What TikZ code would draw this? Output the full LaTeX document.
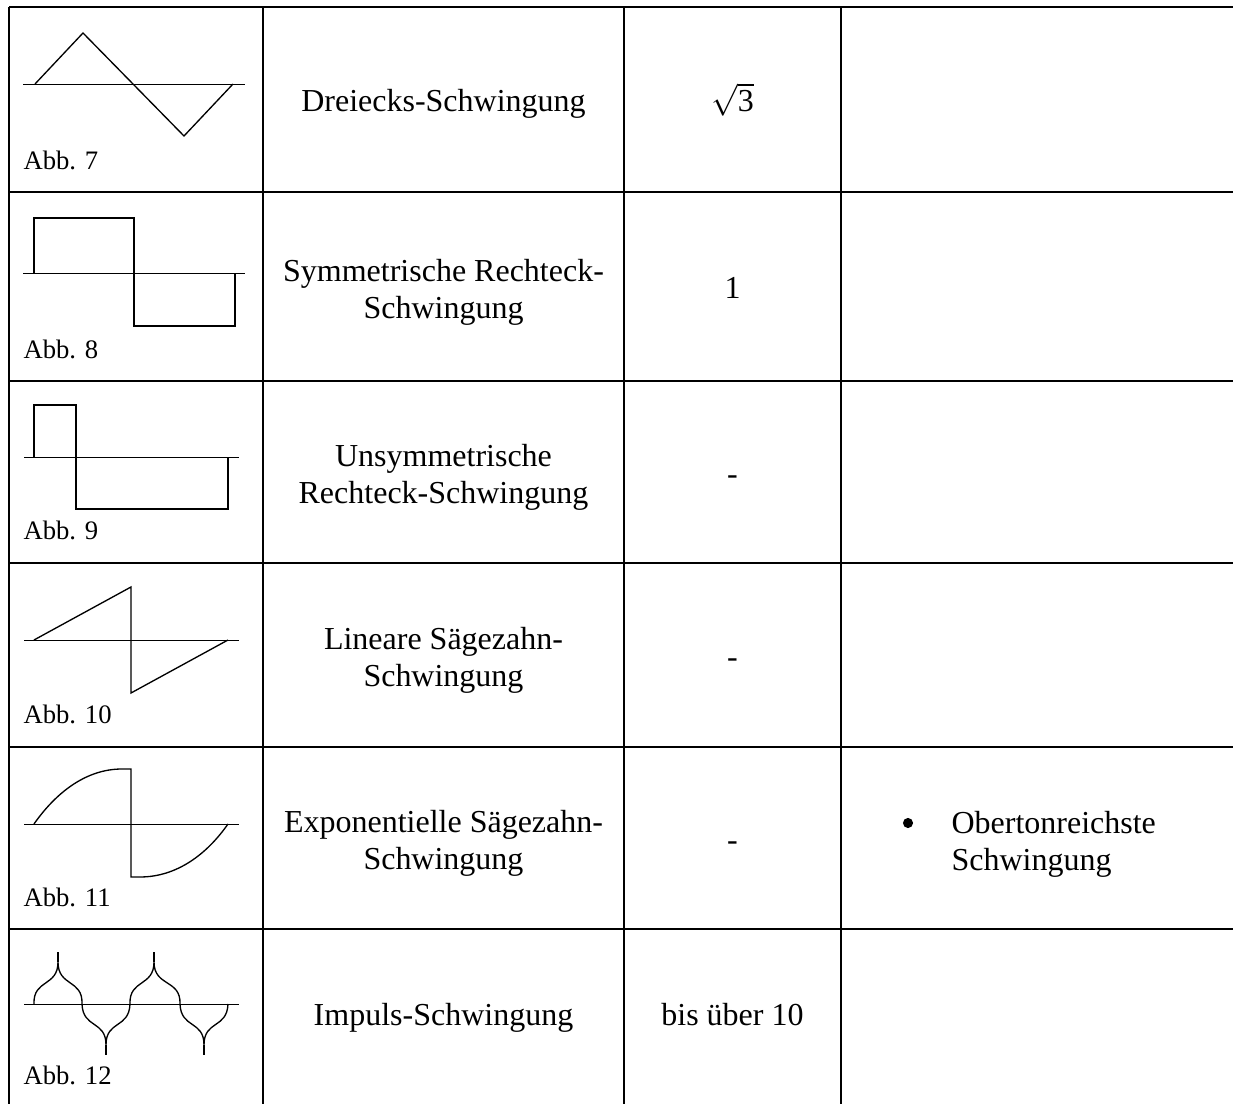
\documentclass[tikz,border=0pt]{standalone}
\usepackage{fontspec}
\setmainfont{Liberation Serif}
\begin{document}
\begin{tikzpicture}[x=0.375pt,y=-0.375pt,
  tbl/.style={line width=0.75pt},
  wave/.style={line width=0.5pt, line join=miter},
  axisline/.style={line width=0.35pt},
  body/.style={font=\fontsize{12pt}{13.8pt}\selectfont, align=center, inner sep=0pt},
  bodyl/.style={font=\fontsize{12pt}{13.8pt}\selectfont, align=left, inner sep=0pt},
  abb/.style={font=\fontsize{10pt}{12pt}\selectfont, anchor=base west, inner sep=0pt},
  bulletdot/.style={circle, fill=black, inner sep=0pt, minimum size=3.8pt}]
\useasboundingbox (0,0) rectangle (1233,1104);
% table grid
\foreach \yy in {7,192,381,563,747,929} \draw[tbl] (9,\yy) -- (1240,\yy);
\foreach \xx in {9,263,624,841} \draw[tbl] (\xx,7) -- (\xx,1110);

% row 1: triangle
\begin{scope}[shift={(0,7)}]
  \draw[axisline] (23,77) -- (245,77);
  \draw[wave] (35,77) -- (83,26) -- (184,129) -- (233,77);
  \node[abb] (abb7) at (23,163) {Abb. 7};
\end{scope}
% row 2: symmetric square
\begin{scope}[shift={(0,192)}]
  \draw[axisline] (23,81) -- (245,81);
  \draw[wave] (34,81) -- (34,26) -- (134,26) -- (134,134) -- (235,134) -- (235,81);
  \node[abb] (abb8) at (23,167) {Abb. 8};
\end{scope}
% row 3: unsymmetric square
\begin{scope}[shift={(0,381)}]
  \draw[axisline] (24,76) -- (239,76);
  \draw[wave] (34,76) -- (34,24) -- (76,24) -- (76,128) -- (228,128) -- (228,76);
  \node[abb] (abb9) at (23,159) {Abb. 9};
\end{scope}
% row 4: linear sawtooth
\begin{scope}[shift={(0,563)}]
  \draw[axisline] (24,77) -- (239,77);
  \draw[wave] (34,77) -- (131,24) -- (131,130) -- (228,77);
  \node[abb] (abb10) at (23,161) {Abb. 10};
\end{scope}
% row 5: exponential sawtooth
\begin{scope}[shift={(0,747)}]
  \draw[axisline] (24,77) -- (239,77);
  \draw[wave] (34,77) .. controls (55,47) and (85,22) .. (122,22) -- (131,22) -- (131,130) -- (140,130) .. controls (177,130) and (207,107) .. (228,77);
  \node[abb] (abb11) at (23,160) {Abb. 11};
\end{scope}
% row 6: impulse
\begin{scope}[shift={(0,929)}]
  \draw[axisline] (24,75) -- (239,75);
  \draw[wave] (34,75) .. controls (33,50) and (58,58) .. (58,33)
     .. controls (58,58) and (83,50) .. (82,75)
     .. controls (83,100) and (106,91) .. (106,116)
     .. controls (106,91) and (129,100) .. (130,75)
     .. controls (129,50) and (154,58) .. (154,33)
     .. controls (154,58) and (181,50) .. (180,75)
     .. controls (181,100) and (204,91) .. (204,116)
     .. controls (204,91) and (227,100) .. (228,75);
  \draw[wave] (58,33) -- (58,23);
  \draw[wave] (154,33) -- (154,23);
  \draw[wave] (106,116) -- (106,126);
  \draw[wave] (204,116) -- (204,126);
  \node[abb] (abb12) at (23,155) {Abb. 12};
\end{scope}

% column 2 names
\node[body, anchor=base] (n1) at (443.5,112) {Dreiecks-Schwingung};
\node[body, anchor=north] (n2) at (443.5,258.5) {Symmetrische Rechteck-\\Schwingung};
\node[body, anchor=north] (n3) at (443.5,444) {Unsymmetrische\\Rechteck-Schwingung};
\node[body, anchor=north] (n4) at (443.5,627) {Lineare Sägezahn-\\Schwingung};
\node[body, anchor=north] (n5) at (443.5,810) {Exponentielle Sägezahn-\\Schwingung};
\node[body, anchor=base] (n6) at (443.5,1025) {Impuls-Schwingung};

% column 3 values
\node[body, anchor=base] (v1) at (732.5,112) {$\sqrt{\mbox{3}}$};
\node[body, anchor=base] (v2) at (732.5,299) {1};
\node[body, anchor=base] (v3) at (732.5,484.5) {-};
\node[body, anchor=base] (v4) at (732.5,667.5) {-};
\node[body, anchor=base] (v5) at (732.5,850.5) {-};
\node[body, anchor=base] (v6) at (732.5,1025) {bis über 10};

% column 4 remark
\node[bulletdot] (bul) at (908,823) {};
\node[bodyl, anchor=north west] (rem) at (951,810.5) {Obertonreichste\\Schwingung};
\end{tikzpicture}
\end{document}
